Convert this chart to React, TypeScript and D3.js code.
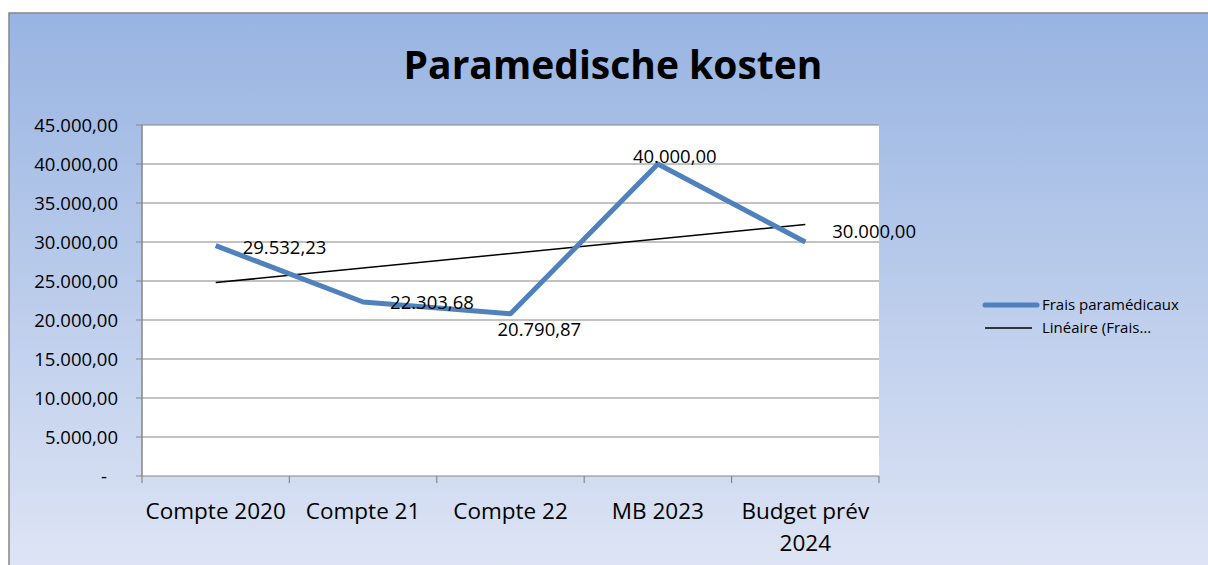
import React, { useEffect, useRef } from 'react';
import * as d3 from 'd3';

const categories = ['Compte 2020', 'Compte 21', 'Compte 22', 'MB 2023', 'Budget prév 2024'];
const values = [29532.23, 22303.68, 20790.87, 40000, 30000];
const yTicks = [0, 5000, 10000, 15000, 20000, 25000, 30000, 35000, 40000, 45000];
const seriesName = 'Frais paramédicaux';
const trendName = 'Linéaire (Frais…';

const fmt = (v: number) => {
  if (v === 0) return '-';
  const [i, d] = v.toFixed(2).split('.');
  return i.replace(/\B(?=(\d{3})+(?!\d))/g, '.') + ',' + d;
};

const App = () => {
  const ref = useRef<SVGSVGElement>(null);

  useEffect(() => {
    const width = 1208;
    const height = 565;
    const m = { left: 142, right: 879, top: 125, bottom: 476 };
    const font = 'Open Sans, Noto Sans, sans-serif';

    const svg = d3.select(ref.current);
    svg.selectAll('*').remove();

    const defs = svg.append('defs');
    const grad = defs.append('linearGradient').attr('id', 'bg').attr('x1', 0).attr('y1', 0).attr('x2', 0).attr('y2', 1);
    grad.append('stop').attr('offset', '0%').attr('stop-color', '#98b4e2');
    grad.append('stop').attr('offset', '100%').attr('stop-color', '#e0e6f5');

    svg.append('rect').attr('width', width).attr('height', height).attr('fill', 'white');
    svg.append('rect')
      .attr('x', 9).attr('y', 13).attr('width', width + 10).attr('height', height + 10)
      .attr('fill', 'url(#bg)').attr('stroke', '#868686').attr('stroke-width', 1.5);

    svg.append('text')
      .attr('x', 613).attr('y', 79)
      .attr('text-anchor', 'middle')
      .attr('font-family', font).attr('font-weight', 'bold').attr('font-size', 39)
      .text('Paramedische kosten');

    const x = d3.scaleBand().domain(categories).range([m.left, m.right]);
    const y = d3.scaleLinear().domain([0, 45000]).range([m.bottom, m.top]);

    svg.append('rect')
      .attr('x', m.left).attr('y', m.top)
      .attr('width', m.right - m.left).attr('height', m.bottom - m.top)
      .attr('fill', 'white');

    // grid
    svg.append('g').selectAll('line').data(yTicks).join('line')
      .attr('x1', m.left - 6).attr('x2', m.right)
      .attr('y1', d => y(d)).attr('y2', d => y(d))
      .attr('stroke', '#868686').attr('stroke-width', 1.2);

    svg.append('line')
      .attr('x1', m.left).attr('x2', m.left).attr('y1', m.top).attr('y2', m.bottom)
      .attr('stroke', '#868686').attr('stroke-width', 1.5);

    // x ticks at band edges
    const edges = categories.map(c => x(c)!).concat([m.right]);
    svg.append('g').selectAll('line').data(edges).join('line')
      .attr('x1', d => d).attr('x2', d => d).attr('y1', m.bottom).attr('y2', m.bottom + 7)
      .attr('stroke', '#868686').attr('stroke-width', 1.2);

    svg.append('g').selectAll('text').data(yTicks).join('text')
      .attr('x', d => (d === 0 ? 107 : 118)).attr('y', d => y(d) + 7)
      .attr('text-anchor', 'end')
      .attr('font-family', font).attr('font-size', 18.5)
      .text(d => fmt(d));

    const xl = svg.append('g').selectAll('text').data(categories).join('text')
      .attr('x', d => x(d)! + x.bandwidth() / 2)
      .attr('y', 519)
      .attr('text-anchor', 'middle')
      .attr('font-family', font).attr('font-size', 22.5);
    xl.each(function (d) {
      const t = d3.select(this);
      const lines = d === 'Budget prév 2024' ? ['Budget prév', '2024'] : [d];
      lines.forEach((l, i) => {
        t.append('tspan').attr('x', x(d)! + x.bandwidth() / 2).attr('dy', i === 0 ? 0 : 32).text(l);
      });
    });

    // trendline (linear regression, Excel style)
    const xs = values.map((_, i) => i + 1);
    const mx = d3.mean(xs)!;
    const my = d3.mean(values)!;
    const slope = d3.sum(xs.map((xi, i) => (xi - mx) * (values[i] - my))) / d3.sum(xs.map(xi => (xi - mx) ** 2));
    const icpt = my - slope * mx;
    const cx = (i: number) => x(categories[i])! + x.bandwidth() / 2;

    svg.append('line')
      .attr('x1', cx(0)).attr('y1', y(icpt + slope * 1))
      .attr('x2', cx(4)).attr('y2', y(icpt + slope * 5))
      .attr('stroke', 'black').attr('stroke-width', 1.6);

    const line = d3.line<number>().x((_, i) => cx(i)).y(d => y(d));
    svg.append('path')
      .datum(values)
      .attr('d', line)
      .attr('fill', 'none')
      .attr('stroke', '#4f81bd')
      .attr('stroke-width', 5)
      .attr('stroke-linejoin', 'round');

    // data labels
    const offs = [[27, 8], [27, 7], [-13, 22], [-25, -1], [27, -4]];
    svg.append('g').selectAll('text').data(values).join('text')
      .attr('x', (_, i) => cx(i) + offs[i][0])
      .attr('y', (d, i) => y(d) + offs[i][1])
      .attr('font-family', font).attr('font-size', 18.5)
      .text(d => fmt(d));

    // legend
    svg.append('line').attr('x1', 985).attr('x2', 1037).attr('y1', 305).attr('y2', 305)
      .attr('stroke', '#4f81bd').attr('stroke-width', 5).attr('stroke-linecap', 'round');
    svg.append('line').attr('x1', 985).attr('x2', 1032).attr('y1', 328).attr('y2', 328)
      .attr('stroke', 'black').attr('stroke-width', 1.6);
    svg.append('text').attr('x', 1042).attr('y', 310)
      .attr('font-family', font).attr('font-size', 15).text(seriesName);
    svg.append('text').attr('x', 1042).attr('y', 333)
      .attr('font-family', font).attr('font-size', 15).text(trendName);
  }, []);

  return (
    <svg ref={ref} width={1208} height={565} style={{ position: 'fixed', left: 0, top: 0 }} />
  );
};

export default App;
